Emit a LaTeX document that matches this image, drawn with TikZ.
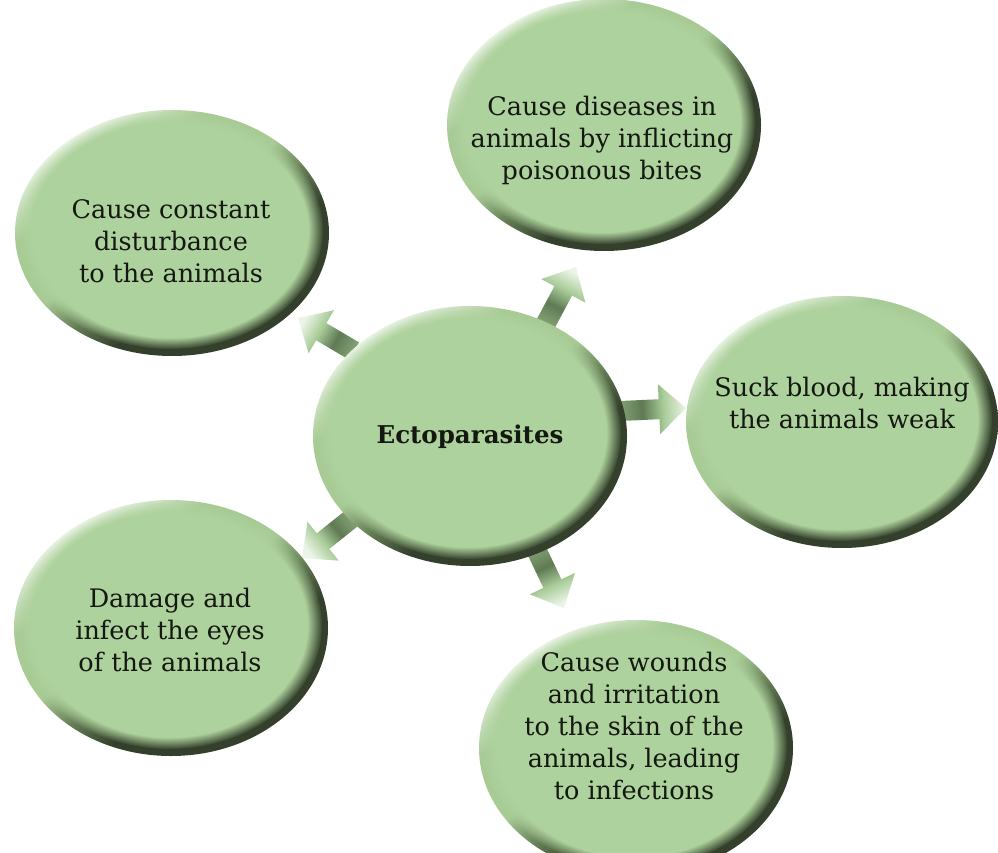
\documentclass[tikz,border=0pt]{standalone}
\usepackage{fontspec}
\setmainfont{DejaVu Serif}
\usetikzlibrary{calc,fadings,shapes.geometric}
\definecolor{basegreen}{RGB}{174,210,157}
\definecolor{rimA}{RGB}{236,245,231}
\definecolor{rimB}{RGB}{168,203,150}
\definecolor{rimC}{RGB}{100,125,85}
\definecolor{rimD}{RGB}{52,64,44}
\definecolor{arA}{RGB}{130,160,115}
\definecolor{arB}{RGB}{95,122,84}
\definecolor{arC}{RGB}{168,203,152}
\definecolor{arD}{RGB}{235,244,230}
\definecolor{textcol}{RGB}{20,24,16}
\pgfdeclarehorizontalshading{rimshade}{100bp}{color(0bp)=(rimA); color(25bp)=(rimA); color(35bp)=(rimB); color(47bp)=(rimB); color(54bp)=(rimC); color(61bp)=(rimD); color(100bp)=(rimD)}
\pgfdeclarehorizontalshading{arrowshade}{100bp}{color(0bp)=(arA); color(25bp)=(arA); color(42bp)=(arB); color(58bp)=(arC); color(75bp)=(arD); color(100bp)=(arD)}
\newcommand\bubble[5]{%
  \shade[shading=rimshade, shading angle=-55] (#2,#3) ellipse [x radius=#4, y radius=#5];
  \fill[basegreen, path fading=circle with fuzzy edge 10 percent] ({#2-2},{#3+3}) ellipse [x radius={#4-4}, y radius={#5-4}];
  \node[ellipse, minimum width={2*#4}, minimum height={2*#5}, inner sep=0] (#1) at (#2,#3) {};
}
\newcommand\blockarrow[3]{%
  \coordinate (#1h) at ($(#2)!27pt!(#1)$);
  \shade[shading=arrowshade, shading angle=#3]
    ($(#1)!10pt!90:(#2)$) -- ($(#1h)!10pt!90:(#2)$) -- ($(#1h)!25pt!90:(#2)$) -- (#2)
    -- ($(#1h)!25pt!-90:(#2)$) -- ($(#1h)!10pt!-90:(#2)$) -- ($(#1)!10pt!-90:(#2)$) -- cycle;
}
\tikzset{txt/.style={align=center, font=\fontsize{25.5}{32}\selectfont, text=textcol, inner sep=0pt}}
\begin{document}
\begin{tikzpicture}[x=1pt,y=1pt]
\useasboundingbox (0,0) rectangle (998,-853);
% arrows
\coordinate (s1) at (354,-351); \coordinate (t1) at (298,-318);
\coordinate (s2) at (545,-325); \coordinate (t2) at (576,-267);
\coordinate (s3) at (620,-411); \coordinate (t3) at (686,-408);
\coordinate (s4) at (352,-518); \coordinate (t4) at (302,-558);
\coordinate (s5) at (535,-547); \coordinate (t5) at (564,-608);
\blockarrow{s1}{t1}{149.5}
\blockarrow{s2}{t2}{61.9}
\blockarrow{s3}{t3}{2.6}
\blockarrow{s4}{t4}{218.7}
\blockarrow{s5}{t5}{-64.6}
% bubbles
\bubble{tl}{172}{-233}{157}{123}
\bubble{top}{604}{-125}{157}{126}
\bubble{rb}{842}{-422}{156}{126}
\bubble{bl}{171}{-628}{157}{128}
\bubble{bot}{636}{-748}{157}{128}
\bubble{c}{470}{-436}{157}{130}
% texts
\node[txt] (tlt) at (171,-241) {Cause constant\\disturbance\\to the animals};
\node[txt] (topt) at (602,-140) {Cause diseases in\\animals by inflicting\\poisonous bites};
\node[txt] (rbt) at (842,-403) {Suck blood, making\\the animals weak};
\node[txt] (blt) at (170,-630) {Damage and\\infect the eyes\\of the animals};
\node[txt] (bott) at (634,-726) {Cause wounds\\and irritation\\to the skin of the\\animals, leading\\to infections};
\node[txt, font=\fontsize{24.5}{26}\selectfont\bfseries] (ct) at (470,-437) {Ectoparasites};
\end{tikzpicture}
\end{document}
